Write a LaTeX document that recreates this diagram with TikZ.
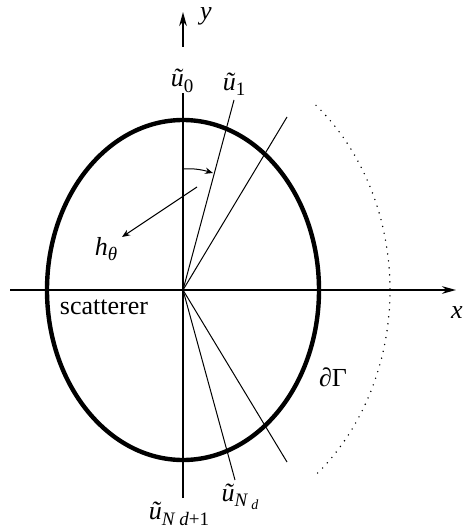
\documentclass[tikz,border=0pt]{standalone}
\usepackage{fontspec}
\setmainfont{Liberation Serif}
\usetikzlibrary{arrows.meta}
\newcommand{\sbs}[1]{\raisebox{-0.45ex}{\fontsize{9.5}{11}\selectfont #1}}
\newcommand{\ssbs}[1]{\raisebox{-0.35ex}{\fontsize{7}{8}\selectfont #1}}
\newcommand{\ut}{\textit{ũ}}
\begin{document}
\begin{tikzpicture}[x=0.5pt,y=-0.5pt,
  font=\fontsize{13}{15}\selectfont,
  axisline/.style={line width=1pt},
  ray/.style={line width=0.5pt},
  bigarrow/.style={-{Stealth[length=7pt,width=3.8pt]}},
  smallarrow/.style={-{Stealth[length=4pt,width=3.2pt]}},
  lbl/.style={inner sep=0pt}]
\useasboundingbox (0,0) rectangle (465,529);
\coordinate (O) at (183,290);
% scatterer boundary
\draw[line width=2.2pt] (O) ellipse [x radius=136, y radius=170];
% dotted far-field arc
\draw[line width=0.8pt, line cap=round, dash pattern=on 0pt off 3.5pt]
  (O) ++(-50:207 and 241) arc[start angle=-50, end angle=50, x radius=207, y radius=241];
% axes
\coordinate (xs) at (10,290);
\coordinate (xe) at (456,290);
\draw[axisline,bigarrow] (xs) -- (xe);
\coordinate (yb) at (183,498);
\coordinate (yt) at (183,93);
\draw[axisline] (yb) -- (yt);
\coordinate (ya) at (183,47);
\coordinate (yh) at (183,12);
\draw[axisline,bigarrow] (ya) -- (yh);
% rays
\coordinate (a1) at (234,100);
\coordinate (a2) at (287,117);
\coordinate (b1) at (235,480);
\coordinate (b2) at (287,462);
\draw[ray] (O) -- (a1);
\draw[ray] (O) -- (a2);
\draw[ray] (O) -- (b1);
\draw[ray] (O) -- (b2);
% angle arrow
\coordinate (ars) at (183,169);
\coordinate (are) at (213,173);
\draw[ray,smallarrow] (ars) .. controls (193,168) and (203,170) .. (are);
% h_theta arrow
\coordinate (hs) at (197,187);
\coordinate (he) at (122,237);
\draw[ray,smallarrow] (hs) -- (he);
% labels
\node[lbl] (ylab) at (206,16) {\textit{y}};
\node[lbl] (xlab) at (457,313) {\textit{x}};
\node[lbl] (u0) at (182,81) {\ut\sbs{0}};
\node[lbl] (u1) at (234,84) {\ut\sbs{1}};
\node[lbl] (h) at (106,249) {\textit{h}\sbs{\textit{θ}}};
\node[lbl] (sc) at (104,307) {scatterer};
\node[lbl] (dG) at (333,377) {∂Γ};
\node[lbl] (uNd) at (240,497) {\ut\sbs{\textit{N}\,\ssbs{\textit{d}}}};
\node[lbl] (uNd1) at (179,514) {\ut\sbs{\textit{N d}+1}};
\end{tikzpicture}
\end{document}
